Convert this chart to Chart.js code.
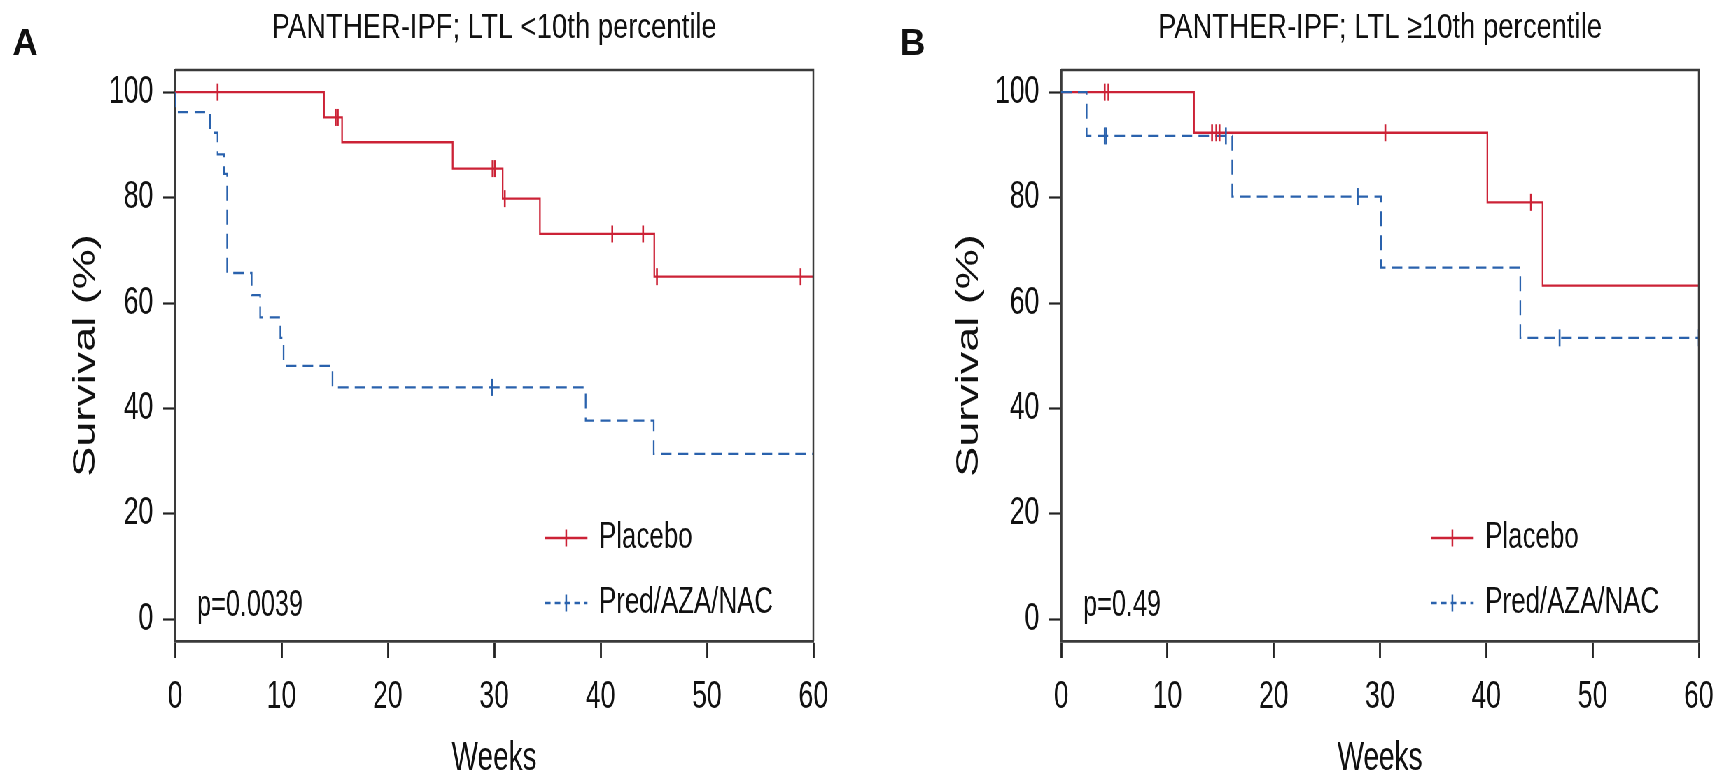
<!DOCTYPE html>
<html>
<head>
<meta charset="utf-8">
<title>PANTHER-IPF survival by LTL</title>
<script src="https://cdn.jsdelivr.net/npm/chart.js@4.4.1/dist/chart.umd.min.js"></script>
<style>
  html, body { margin: 0; padding: 0; background: #fff; overflow: hidden; }
  /* both panels are drawn on a wide stage and squeezed horizontally,
     which gives the narrow lettering of the printed figure */
  #stage { position: absolute; left: 0; top: 0; width: 2468px; height: 779px;
           transform: scaleX(0.7); transform-origin: 0 0; }
  #stage canvas { position: absolute; top: 0; }
  #panelA { left: 0; }
  #panelB { left: 1234px; }
</style>
</head>
<body>
<div id="stage">
  <canvas id="panelA" width="1234" height="779"></canvas>
  <canvas id="panelB" width="1234" height="779"></canvas>
</div>
<script>
const SQUEEZE = 0.7;
const FONT = "'Liberation Sans', Arial, sans-serif";
const RED = '#cc2236';
const BLUE = '#2a62ad';

const weekTicks = [0, 10, 20, 30, 40, 50, 60];
const survivalTicks = [0, 20, 40, 60, 80, 100];
const seriesNames = ['Placebo', 'Pred/AZA/NAC'];
const panelLetters = ['A', 'B'];
const panelTitles = ['PANTHER-IPF; LTL <10th percentile', 'PANTHER-IPF; LTL \u226510th percentile'];
const pValues = ['p=0.0039', 'p=0.49'];

// Panel A: LTL < 10th percentile (Kaplan-Meier steps, survival in %)
const aPlaceboWeeks = [0, 14.0, 15.7, 26.1, 30.8, 34.3, 45.05, 60];
const aPlaceboSurv = [100, 95.2, 90.5, 85.5, 79.8, 73.1, 65.0, 65.0];
const aPlaceboCensor = [4.0, 15.1, 15.3, 29.85, 30.05, 31.0, 41.1, 44.0, 45.3, 58.8];
const aPredWeeks = [0, 0, 3.3, 4.0, 4.6, 4.9, 7.2, 8.0, 9.9, 10.2, 14.8, 38.6, 45.0, 60];
const aPredSurv = [100, 96.2, 92.3, 88.2, 84.5, 65.7, 61.5, 57.3, 53.4, 48.1, 44.0, 37.7, 31.4, 31.4];
const aPredCensor = [29.8];

// Panel B: LTL >= 10th percentile
const bPlaceboWeeks = [0, 12.5, 40.1, 45.3, 60];
const bPlaceboSurv = [100, 92.3, 79.1, 63.3, 63.3];
const bPlaceboCensor = [4.1, 4.45, 14.2, 14.6, 14.9, 30.5, 44.2];
const bPredWeeks = [0, 2.4, 16.1, 30.1, 43.2, 60];
const bPredSurv = [100, 91.7, 80.2, 66.7, 53.4, 53.4];
const bPredCensor = [4.1, 4.25, 15.5, 27.9, 46.9, 60];

function survivalAt(weeks, surv, t) {
  let s = surv[0];
  for (let i = 0; i < weeks.length; i++) {
    if (weeks[i] <= t) s = surv[i];
  }
  return s;
}

function curvePoints(weeks, surv) {
  return weeks.map((w, i) => ({ x: w, y: surv[i] }));
}

function censorPoints(times, weeks, surv) {
  return times.map(t => ({ x: t, y: survivalAt(weeks, surv, t) }));
}

// frame, panel letter, title, p-value and the in-plot legend
const panelDecor = {
  id: 'panelDecor',
  afterDraw(chart, args, opts) {
    const { ctx, chartArea: a } = chart;
    ctx.save();

    ctx.strokeStyle = '#3a3a3a';
    ctx.lineWidth = 2.5;
    ctx.beginPath();
    ctx.moveTo(a.left, a.top);
    ctx.lineTo(a.right, a.top);
    ctx.lineTo(a.right, a.bottom);
    ctx.stroke();

    ctx.fillStyle = '#111';
    ctx.textAlign = 'center';
    ctx.textBaseline = 'alphabetic';

    ctx.save();
    ctx.translate(opts.letterX, 55);
    ctx.scale(0.95 / SQUEEZE, 1);
    ctx.font = `bold 37px ${FONT}`;
    ctx.fillText(opts.letter, 0, 0);
    ctx.restore();

    ctx.save();
    ctx.translate((a.left + a.right) / 2, 38);
    ctx.scale(1.12, 1);
    ctx.font = `35px ${FONT}`;
    ctx.fillText(opts.title, 0, 0);
    ctx.restore();

    ctx.textAlign = 'left';
    ctx.textBaseline = 'middle';
    ctx.font = `36px ${FONT}`;
    ctx.fillText(opts.pText, a.left + 22 / SQUEEZE, 606);

    const rows = [538, 603];
    const x1 = a.left + 370 / SQUEEZE;
    const x2 = a.left + 412.5 / SQUEEZE;
    const tx = a.left + 424 / SQUEEZE;
    ctx.font = `37px ${FONT}`;
    chart.data.datasets.filter(d => d.curve).forEach((d, i) => {
      const y = rows[i];
      ctx.strokeStyle = d.borderColor;
      ctx.lineWidth = 2.5;
      ctx.setLineDash(d.borderDash ? [8, 6] : []);
      ctx.beginPath();
      ctx.moveTo(x1, y);
      ctx.lineTo(x2, y);
      ctx.stroke();
      ctx.setLineDash([]);
      ctx.beginPath();
      ctx.moveTo((x1 + x2) / 2, y - 8.5);
      ctx.lineTo((x1 + x2) / 2, y + 8.5);
      ctx.stroke();
      ctx.fillStyle = '#111';
      ctx.fillText(d.label, tx, y);
    });

    ctx.restore();
  }
};

function makePanel(canvasId, p) {
  const lineBase = { stepped: 'before', pointRadius: 0, fill: false, borderWidth: 2.3 };
  const censorBase = {
    showLine: false, pointStyle: 'line', pointRotation: 90,
    pointRadius: 8.5, pointHoverRadius: 8.5, pointBorderWidth: 2.6, order: 0
  };

  return new Chart(document.getElementById(canvasId), {
    type: 'line',
    data: {
      datasets: [
        { ...lineBase, label: seriesNames[0], curve: true, order: 2,
          data: curvePoints(p.placeboWeeks, p.placeboSurv), borderColor: RED },
        { ...lineBase, label: seriesNames[1], curve: true, order: 1,
          data: curvePoints(p.predWeeks, p.predSurv), borderColor: BLUE, borderDash: [15, 9] },
        { ...censorBase, label: seriesNames[0] + ' censored',
          data: censorPoints(p.placeboCensor, p.placeboWeeks, p.placeboSurv),
          borderColor: RED, pointBorderColor: RED },
        { ...censorBase, label: seriesNames[1] + ' censored',
          data: censorPoints(p.predCensor, p.predWeeks, p.predSurv),
          borderColor: BLUE, pointBorderColor: BLUE }
      ]
    },
    options: {
      responsive: false,
      animation: false,
      layout: { padding: { top: 70, bottom: 0, left: 0, right: p.padRight } },
      plugins: {
        legend: { display: false },
        tooltip: { enabled: false },
        panelDecor: { letter: p.letter, letterX: p.letterX, title: p.title, pText: p.pText }
      },
      scales: {
        x: {
          type: 'linear',
          min: 0,
          max: 60,
          afterBuildTicks: s => { s.ticks = weekTicks.map(v => ({ value: v })); },
          afterFit: s => { s.height = 138; },
          grid: { drawOnChartArea: false, tickLength: 17, tickWidth: 2.8, tickColor: '#222' },
          border: { color: '#3a3a3a', width: 2.8 },
          ticks: { autoSkip: false, maxRotation: 0, padding: 17, color: '#111',
                   font: { family: FONT, size: 38 } },
          title: { display: true, text: 'Weeks', color: '#111',
                   font: { family: FONT, size: 40, lineHeight: 1 }, padding: { top: 0, bottom: 0 } }
        },
        y: {
          type: 'linear',
          min: -4.1,
          max: 104.2,
          afterBuildTicks: s => { s.ticks = survivalTicks.map(v => ({ value: v })); },
          afterFit: s => { s.width = p.yWidth; },
          grid: { drawOnChartArea: false, tickLength: 17, tickWidth: 2.2, tickColor: '#222' },
          border: { color: '#3a3a3a', width: 2.8 },
          ticks: { padding: 14, color: '#111', font: { family: FONT, size: 38 } },
          title: { display: true, text: 'Survival (%)', color: '#111',
                   font: { family: FONT, size: 45, lineHeight: 1 },
                   padding: { top: p.yTitlePad, bottom: 0 } }
        }
      }
    },
    plugins: [panelDecor]
  });
}

makePanel('panelA', {
  placeboWeeks: aPlaceboWeeks, placeboSurv: aPlaceboSurv, placeboCensor: aPlaceboCensor,
  predWeeks: aPredWeeks, predSurv: aPredSurv, predCensor: aPredCensor,
  letter: panelLetters[0], letterX: 36, title: panelTitles[0], pText: pValues[0],
  yWidth: 250, yTitlePad: 100, padRight: 72
});

makePanel('panelB', {
  placeboWeeks: bPlaceboWeeks, placeboSurv: bPlaceboSurv, placeboCensor: bPlaceboCensor,
  predWeeks: bPredWeeks, predSurv: bPredSurv, predCensor: bPredCensor,
  letter: panelLetters[1], letterX: 70, title: panelTitles[1], pText: pValues[1],
  yWidth: 282, yTitlePad: 128, padRight: 41
});
</script>
</body>
</html>
